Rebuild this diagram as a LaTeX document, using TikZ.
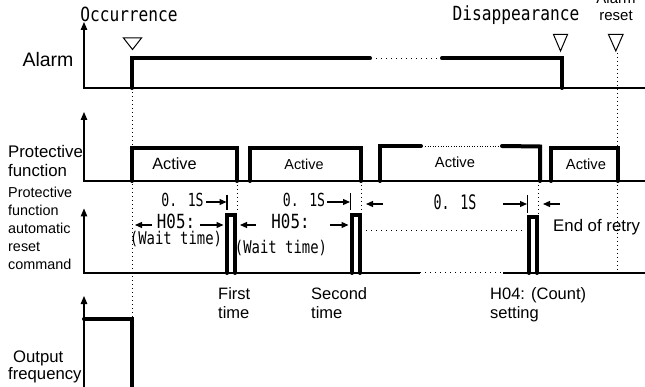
\documentclass[tikz,border=0pt]{standalone}
\usepackage{fontspec}
\setmainfont{Liberation Sans}
\newfontfamily\monoOcc[FakeStretch=0.83]{DejaVu Sans Mono}
\newfontfamily\monoH[FakeStretch=0.81]{DejaVu Sans Mono}
\newfontfamily\monoS[FakeStretch=0.73]{DejaVu Sans Mono}
\newfontfamily\monoW[FakeStretch=0.795]{DejaVu Sans Mono}
\newfontfamily\monoT[FakeStretch=0.665]{DejaVu Sans Mono}
\usetikzlibrary{arrows.meta}
\begin{document}
\begin{tikzpicture}[x=1pt,y=-1pt,
  axis/.style={line width=1.1pt,line join=miter},
  axtip/.style={axis,{Triangle[length=8pt,width=6.5pt]}-},
  sig/.style={line width=4pt,line cap=round,line join=miter},
  dotv/.style={line width=1pt,dash pattern=on 1pt off 3pt},
  doth/.style={line width=1pt,dash pattern=on 1.2pt off 3.8pt},
  dotthin/.style={line width=0.7pt,dash pattern=on 1pt off 1.6pt},
  dimarr/.style={line width=1.2pt,-{Triangle[length=7pt,width=6pt]}},
  dimbar/.style={line width=1.1pt},
  tri/.style={line width=1pt,line join=miter},
  txt/.style={inner sep=0pt,anchor=base west,font=\fontsize{16.5}{19}\selectfont},
  txtc/.style={inner sep=0pt,anchor=base},
]
\clip (0,0) rectangle (645,387);
\fill[white] (0,0) rectangle (645,387);

% ---------- dotted guide lines ----------
\coordinate (occTop) at (132,88);
\coordinate (occBot) at (132,317);
\draw[dotv] (occTop) -- (occBot);
\coordinate (rstTop) at (617.5,53);
\coordinate (rstBot) at (617.5,273);
\draw[dotv] (rstTop) -- (rstBot);
\coordinate (g1a) at (237,181); \coordinate (g1b) at (237,213);
\coordinate (g2a) at (361,181); \coordinate (g2b) at (361,213);
\coordinate (g3a) at (538.5,181); \coordinate (g3b) at (538.5,215);
\draw[dotv] (g1a) -- (g1b);
\draw[dotv] (g2a) -- (g2b);
\draw[dotv] (g3a) -- (g3b);

% ---------- axes ----------
\draw[axtip] (84,22) -- (84,88) -- (645,88);
\draw[axtip] (84,112) -- (84,181) -- (645,181);
\draw[axtip] (84,208.5) -- (84,273) -- (420,273);
\draw[doth] (420,273) -- (503,273);
\draw[axis] (503,273) -- (645,273);
\draw[axtip] (84,296) -- (84,392);

% ---------- alarm signal ----------
\draw[sig] (132,88) -- (132,58.3) -- (370,58.3);
\draw[doth] (376,58.3) -- (438,58.3);
\draw[sig] (442,58.3) -- (562,58.3) -- (562,88);

% markers
\draw[tri] (123.5,38) -- (141.5,38) -- (132.5,49.5) -- cycle;
\draw[tri] (553.5,34.5) -- (567.5,34.5) -- (560.5,51) -- cycle;
\draw[tri] (608.5,34.5) -- (623,34.5) -- (615.8,51) -- cycle;

% ---------- protective function ----------
\draw[sig] (132,181) -- (132,148) -- (237,148) -- (237,181);
\draw[sig] (250,181) -- (250,148) -- (361,148) -- (361,181);
\draw[sig] (380,181) -- (380,146) -- (421,146);
\draw[dotthin] (425,146) -- (499,146);
\draw[sig] (502,146) -- (540,146.5) -- (540,181);
\draw[sig] (551,181) -- (551,148) -- (617.5,148) -- (617.5,181);

% ---------- reset command ----------
\draw[sig] (227,273) -- (227,215) -- (235,215) -- (235,273);
\draw[sig] (352,273) -- (352,215) -- (360,215) -- (360,273);
\draw[sig] (529,273) -- (529,217) -- (537,217) -- (537,273);
\draw[doth] (366,231) -- (522,231);

% ---------- output frequency ----------
\draw[sig] (84,319) -- (132,319) -- (132,392);

% ---------- 0.1S dimensions ----------
\draw[dimbar] (227,195) -- (227,210);
\draw[dimarr] (206,202) -- (226.5,202);
\draw[dimbar] (350.5,193) -- (350.5,210);
\draw[dimarr] (327,202) -- (350,202);
\draw[dimarr] (383,204) -- (366,204);
\draw[dimbar] (527.5,195) -- (527.5,213);
\draw[dimarr] (503,204) -- (527,204);
\draw[dimarr] (560,204) -- (543,204);

% H05 arrows
\draw[dimarr] (152,225) -- (135,225);
\draw[dimarr] (200,225) -- (223.5,225);
\draw[dimarr] (256,225) -- (240,225);
\draw[dimarr] (330,225) -- (348.5,225);

% ---------- texts ----------
\node[txtc,font=\monoOcc\fontsize{19.5}{22}\selectfont] (occ) at (129,22) {Occurrence};
\node[txtc,font=\monoOcc\fontsize{19.5}{22}\selectfont] (dis) at (516,20.5) {Disappearance};
\node[txtc,font=\fontsize{15}{17}\selectfont] (rst1) at (616,4) {Alarm};
\node[txtc,font=\fontsize{15}{17}\selectfont] (rst2) at (616,21) {reset};

\node[txtc,font=\fontsize{19.5}{22}\selectfont] (lalarm) at (48,67) {Alarm};
\node[txt,font=\fontsize{16.8}{19}\selectfont] (lpf1) at (8,157.5) {Protective};
\node[txt,font=\fontsize{16.8}{19}\selectfont] (lpf2) at (8,176.5) {function};
\node[txt,font=\fontsize{14.4}{17}\selectfont] (lrc1) at (8,198) {Protective};
\node[txt,font=\fontsize{14.4}{17}\selectfont] (lrc2) at (8,216) {function};
\node[txt,font=\fontsize{14.4}{17}\selectfont] (lrc3) at (8,234) {automatic};
\node[txt,font=\fontsize{14.4}{17}\selectfont] (lrc4) at (8,252) {reset};
\node[txt,font=\fontsize{14.4}{17}\selectfont] (lrc5) at (8,270) {command};
\node[txt,font=\fontsize{16.7}{19}\selectfont] (lof1) at (13,362) {Output};
\node[txt,font=\fontsize{16.7}{19}\selectfont] (lof2) at (8,379) {frequency};

\node[txtc,font=\fontsize{16.3}{19}\selectfont] (act1) at (174.5,170) {Active};
\node[txtc,font=\fontsize{14.4}{17}\selectfont] (act2) at (304,170) {Active};
\node[txtc,font=\fontsize{14.7}{17}\selectfont] (act3) at (455,168) {Active};
\node[txtc,font=\fontsize{14.7}{17}\selectfont] (act4) at (586,170) {Active};

\node[txtc,font=\monoS\fontsize{18}{20}\selectfont] (t1) at (182.5,206.5) {0. 1S};
\node[txtc,font=\monoS\fontsize{18}{20}\selectfont] (t2) at (304,206.5) {0. 1S};
\node[txtc,font=\monoT\fontsize{20}{22}\selectfont] (t3) at (455,210) {0. 1S};

\node[txtc,font=\monoH\fontsize{19.5}{22}\selectfont] (h1) at (176,228.5) {H05:};
\node[txtc,font=\monoH\fontsize{19.5}{22}\selectfont] (h2) at (290.5,229) {H05:};
\node[txtc,font=\monoW\fontsize{17.5}{20}\selectfont] (w1) at (176,244.5) {(Wait time)};
\node[txtc,font=\monoW\fontsize{17.5}{20}\selectfont] (w2) at (281,254) {(Wait time)};

\node[txt,font=\fontsize{16.8}{19}\selectfont] (end) at (553,231.5) {End of retry};

\node[txt] (f1) at (218,300) {First};
\node[txt] (f2) at (218,319) {time};
\node[txt] (s1) at (311,300) {Second};
\node[txt] (s2) at (311,319) {time};
\node[txt] (c1) at (490,300) {H04: (Count)};
\node[txt] (c2) at (490,319) {setting};
\end{tikzpicture}
\end{document}
